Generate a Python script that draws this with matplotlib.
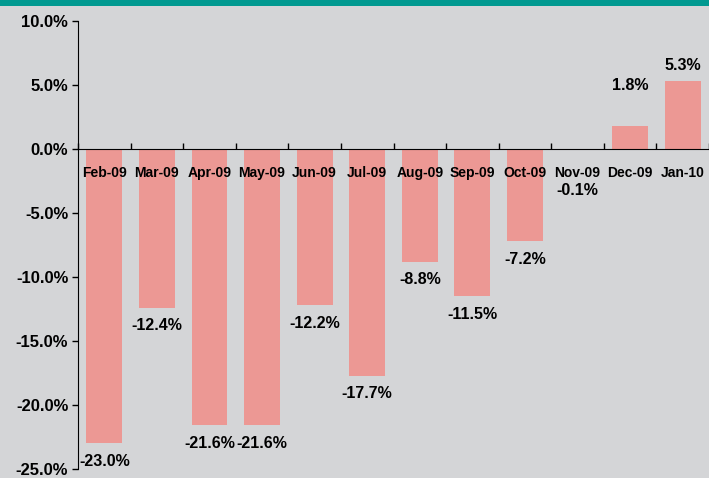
import numpy as np
import matplotlib.pyplot as plt
from matplotlib.patches import Rectangle

# monthly change, %
months = ["Feb-09", "Mar-09", "Apr-09", "May-09", "Jun-09", "Jul-09",
          "Aug-09", "Sep-09", "Oct-09", "Nov-09", "Dec-09", "Jan-10"]
values = [-23.0, -12.4, -21.6, -21.6, -12.2, -17.7,
          -8.8, -11.5, -7.2, -0.1, 1.8, 5.3]
labels = ["%.1f%%" % v for v in values]

bg = "#D4D5D7"
bar_col = "#EC9894"
plt.rcParams['font.family'] = ['Liberation Sans', 'DejaVu Sans']

fig = plt.figure(figsize=(7.09, 4.78), dpi=100, facecolor=bg)
ax = fig.add_axes([78/709, 1-469/478, 1-78/709, (469-21)/478])
ax.set_facecolor(bg)

# teal band at top
fig.patches.append(Rectangle((0, 1-6/478), 1, 6/478, transform=fig.transFigure,
                             facecolor="#009990", edgecolor="none"))

x = np.arange(len(months))
ax.bar(x, values, width=0.68, color=bar_col, zorder=2)

ax.set_xlim(-0.5, len(months)-0.5)
ax.set_ylim(-25, 10)
ax.set_yticks(np.arange(-25, 10.1, 5))
ax.set_yticklabels(["%.1f%%" % t for t in np.arange(-25, 10.1, 5)],
                   fontsize=12, fontweight="bold")
ax.tick_params(axis="y", direction="out", length=4, width=1, pad=3)

ax.spines["top"].set_visible(False)
ax.spines["right"].set_visible(False)
ax.spines["bottom"].set_position(("data", 0))
ax.spines["bottom"].set_zorder(3)
ax.xaxis.set_zorder(4)

ax.set_xticks(np.arange(len(months)+1) - 0.5)
ax.set_xticklabels([])
ax.tick_params(axis="x", which="major", direction="in", length=4, width=1)
ax.set_xticks(x, minor=True)
ax.set_xticklabels(months, minor=True, fontsize=10, fontweight="bold")
ax.tick_params(axis="x", which="minor", length=0, pad=12)

# value labels
extra = {9: 40, 10: 42}
for i, v in enumerate(values):
    off = extra.get(i, 18)
    if v < 0:
        ax.annotate(labels[i], (x[i], v), xytext=(0, -off), textcoords="offset pixels",
                    ha="center", va="center", fontsize=11.5, fontweight="bold", zorder=5)
    else:
        ax.annotate(labels[i], (x[i], v), xytext=(0, off-2), textcoords="offset pixels",
                    ha="center", va="center", fontsize=11.5, fontweight="bold", zorder=5)

fig.savefig("out.png", dpi=100, facecolor=bg)
